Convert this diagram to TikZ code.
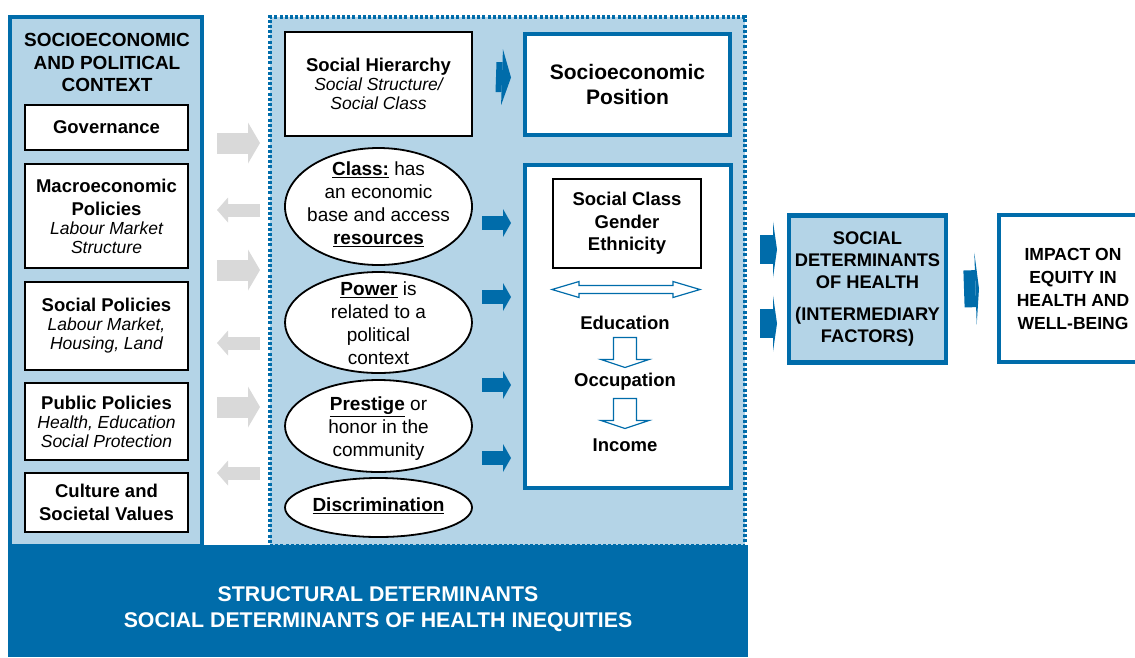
\documentclass[tikz,border=0pt]{standalone}
\usepackage{fontspec}
\setmainfont{Liberation Sans}
\usetikzlibrary{shapes.geometric,arrows.meta,calc}
\definecolor{sdblue}{RGB}{0,108,170}
\definecolor{sdlight}{RGB}{180,212,231}
\definecolor{arrgray}{RGB}{217,217,217}
\newcommand\itl[1]{{\fontsize{17.5}{19}\selectfont\itshape #1}}
\begin{document}
\begin{tikzpicture}[x=1pt,y=-1pt,every node/.style={outer sep=0pt},
  ctxbox/.style={draw=sdblue,line width=4pt,fill=sdlight,minimum width=192pt,minimum height=529pt,inner sep=0pt},
  midbox/.style={draw=sdblue,line width=3.5pt,fill=sdlight,dash pattern=on 3pt off 2.2pt,minimum width=475pt,minimum height=529pt,inner sep=0pt},
  blackbox/.style={draw=black,line width=1.6pt,fill=white,align=center,minimum width=163pt,inner sep=0pt,font=\fontsize{18.5}{19}\selectfont},
  bluebox/.style={draw=sdblue,line width=4.5pt,fill=white,align=center,inner sep=0pt,font=\fontsize{18.5}{22.5}\selectfont\bfseries},
  oval/.style={ellipse,draw=black,line width=1.8pt,fill=white,minimum width=187pt,inner sep=0pt},
  ovaltxt/.style={align=center,inner sep=0pt,font=\fontsize{19}{23}\selectfont},
  boldtxt/.style={align=center,inner sep=0pt,font=\fontsize{18.5}{22.5}\selectfont\bfseries},
  gfwd/.style={draw=arrgray,line width=21pt,-{Triangle[length=12pt,width=41pt,line width=0pt]}},
  gbwd/.style={draw=arrgray,line width=13pt,-{Triangle[length=11pt,width=25pt,line width=0pt]}},
  barr/.style={draw=sdblue,line width=14pt,-{Triangle[length=8pt,width=28pt,line width=0pt]}}]
\tikzset{dblarrow/.pic={
    \draw[sdblue,line width=1.2pt,fill=white](-74,0)--(-47,-8)--(-47,-4)--(47,-4)--(47,-8)--(74,0)--(47,8)--(47,4)--(-47,4)--(-47,8)--cycle;
}}
\tikzset{dnarrow/.pic={
    \draw[sdblue,line width=1.2pt,fill=white](-11.5,-15)--(11.5,-15)--(11.5,7)--(24,7)--(0,15)--(-24,7)--(-11.5,7)--cycle;
}}
\useasboundingbox (0,0) rectangle (1135,657);
% structural part
\node[ctxbox] (ctx) at (106,281.5) {};
\node[midbox] (mid) at (507.5,281.25) {};
\node[boldtxt,font=\fontsize{19}{22.5}\selectfont\bfseries] (ctxhd) at (107,62.5) {SOCIOECONOMIC\\AND POLITICAL\\CONTEXT};
\node[blackbox,minimum height=45pt] (gov) at (106.5,127.5) {\textbf{Governance}};
\node[blackbox,minimum height=104pt] (mac) at (106.5,216) {\textbf{Macroeconomic}\\[4pt]\textbf{Policies}\\\itl{Labour Market}\\\itl{Structure}};
\node[blackbox,minimum height=88pt] (socp) at (106.5,326) {\textbf{Social Policies}\\\itl{Labour Market,}\\\itl{Housing, Land}};
\node[blackbox,minimum height=77pt] (pubp) at (106.5,421.5) {\textbf{Public Policies}\\\itl{Health, Education}\\\itl{Social Protection}};
\node[blackbox,minimum height=59pt] (cult) at (106.5,502.5) {\textbf{Culture and}\\[4pt]\textbf{Societal Values}};
\foreach \y in {143,270,407}
  \draw[gfwd]([xshift=15pt]ctx.east |- 0,\y)--([xshift=-10pt]mid.west |- 0,\y);
\foreach \y in {210,343,473}
  \draw[gbwd]([xshift=-10pt]mid.west |- 0,\y)--([xshift=15pt]ctx.east |- 0,\y);
% hierarchy and position
\node[blackbox,minimum width=187pt,minimum height=104pt] (hier) at (378.5,84) {\textbf{Social Hierarchy}\\\itl{Social Structure/}\\\itl{Social Class}};
\node[bluebox,font=\fontsize{21}{25}\selectfont\bfseries,minimum width=205pt,minimum height=101pt] (sep) at (627.5,84.5) {Socioeconomic\\Position};
\draw[barr,line width=30pt,-{Triangle[length=9pt,width=56pt,line width=0pt]}]([xshift=24pt,yshift=7pt]hier.east)--([xshift=-14pt,yshift=7pt]sep.west);
\node[oval,minimum height=117pt] (cls) at (378.5,206.5) {};
\node[ovaltxt] (clst) at (378.5,204) {\textbf{\underline{Class:}} has\\an economic\\base and access\\\textbf{\underline{resources}}};
\node[oval,minimum height=101pt] (pow) at (378.5,322.5) {};
\node[ovaltxt] (powt) at (378.5,323) {\textbf{\underline{Power}} is\\related to a\\political\\context};
\node[oval,minimum height=92pt] (pres) at (378.5,426) {};
\node[ovaltxt] (prest) at (378.5,428.5) {\textbf{\underline{Prestige}} or\\honor in the\\community};
\node[oval,minimum height=59pt] (disc) at (378.5,507.5) {};
\node[ovaltxt] (disct) at (378.5,506) {\textbf{\underline{Discrimination}}};
\node[bluebox,minimum width=206pt,minimum height=323pt] (dim) at (628,326.5) {};
\foreach \y in {223,297,385,458}
  \draw[barr]([xshift=10pt]cls.east |- 0,\y)--([xshift=-14pt]dim.west |- 0,\y);
\node[blackbox,font=\fontsize{18.5}{22.5}\selectfont\bfseries,minimum width=148pt,minimum height=89pt] (scg) at (627,223.5) {Social Class\\Gender\\Ethnicity};
\pic at (626,289.5) {dblarrow};
\node[boldtxt] (edu) at (625,323) {Education};
\node[boldtxt] (occ) at (625,382) {Occupation};
\node[boldtxt] (inc) at (625,445) {Income};
\pic at ($(edu)!0.5!(occ)$) {dnarrow};
\pic at ($(occ)!0.5!(inc)$) {dnarrow};
% intermediary and impact
\node[bluebox,fill=sdlight,font=\fontsize{18.3}{22}\selectfont\bfseries,minimum width=157pt,minimum height=147pt] (sdh) at (867.5,289) {SOCIAL\\DETERMINANTS\\OF HEALTH\\[10pt](INTERMEDIARY\\FACTORS)};
\node[bluebox,font=\fontsize{17.5}{23}\selectfont\bfseries,minimum width=148pt,minimum height=147pt] (imp) at (1073,288.5) {IMPACT ON\\EQUITY IN\\HEALTH AND\\WELL-BEING};
\foreach \y in {249.5,323.5}
  \draw[barr,line width=29pt,-{Triangle[length=4pt,width=56pt,line width=0pt]}]([xshift=29pt]dim.east |- 0,\y)--([xshift=-12pt]sdh.west |- 0,\y);
\draw[barr,line width=37pt,-{Triangle[length=3.5pt,width=72pt,line width=0pt]}]([xshift=18pt]sdh.east)--([xshift=-20pt]imp.west);
% bottom band
\node[fill=sdblue,minimum width=740pt,minimum height=112pt,inner sep=0pt] (band) at (378,601) {};
\node[align=center,inner sep=0pt,text=white,font=\fontsize{21.3}{26}\selectfont\bfseries] (bandtxt) at (378,609) {STRUCTURAL DETERMINANTS\\SOCIAL DETERMINANTS OF HEALTH INEQUITIES};
\end{tikzpicture}
\end{document}
